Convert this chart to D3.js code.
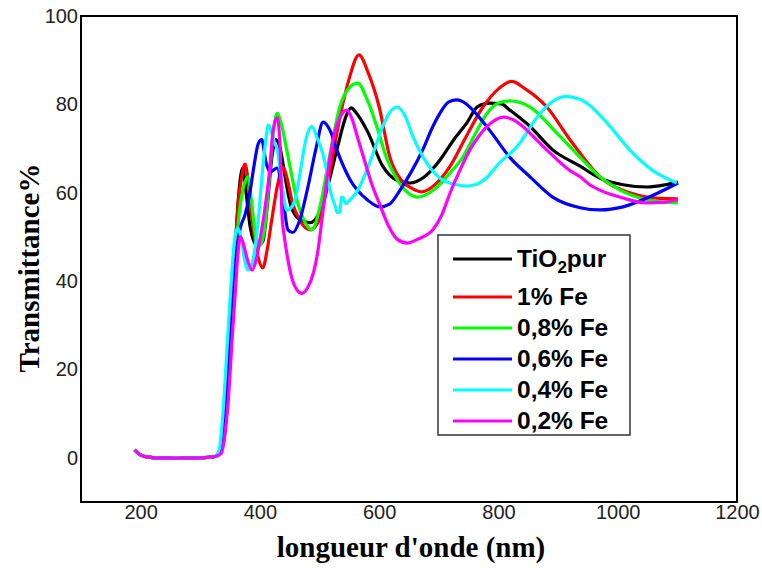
<!DOCTYPE html>
<html><head><meta charset="utf-8">
<script src="https://d3js.org/d3.v7.min.js"></script>
<style>body{margin:0;background:#fff} svg{display:block}</style>
</head><body>
<svg id="chart" width="762" height="568"></svg>
<script>
const xTicks = [200, 400, 600, 800, 1000, 1200];
const yTicks = [0, 20, 40, 60, 80, 100];
const seriesLabels = ["TiO2pur", "1% Fe", "0,8% Fe", "0,6% Fe", "0,4% Fe", "0,2% Fe"];
const seriesColors = ["#000000", "#ff0000", "#00ff00", "#0000ff", "#00ffff", "#ff00ff"];

// shared UV part (wavelength nm, transmittance %)
const baseline = [[190,1.8],[199,0.7],[210,0.2],[225,0],[260,-0.1],[300,0],[325,0.3]];

const tio2Pur = [[337,3],[345,12],[352,28],[358,45],[363,57],[368,64],[371,65.6],[376,61],[384,52],[395,48],[405,49],[413,58],[420,68],[427,72],[434,70],[443,63],[452,57],[466,54],[484,53.2],[498,55],[512,60.6],[529,69.7],[545,77.5],[553,79.2],[562,78],[580,74],[606,66],[630,62.8],[652,62.2],[675,63.5],[702,67.4],[725,72],[747,75.8],[765,79.5],[785,80.3],[805,80.1],[819,78.7],[853,75],[891,69.7],[937,66],[970,63.3],[1009,61.8],[1049,61.3],[1080,61.8],[1101,62.4]];

const fe10 = [[338,3],[346,14],[353,32],[359,48],[364,58],[370,64],[375,66.5],[380,63],[387,53.8],[396,46],[405,43],[412,47],[420,54],[430,62],[439,65.8],[446,63],[454,58],[468,53.5],[484,51.6],[500,54],[515,63],[534,77],[550,86],[566,91.2],[582,87],[600,79.4],[618,68],[636,63],[655,61],[672,60.2],[695,62],[719,66],[745,72.5],[774,79.4],[800,83.5],[822,85.2],[845,83.5],[881,79.4],[920,72],[975,63],[1020,60],[1049,59],[1075,58.7],[1101,58.6]];

const fe08 = [[338,3],[346,13],[353,30],[359,45],[365,55],[372,61],[380,63.6],[386,58],[393,50],[400,48],[408,52],[415,62],[422,73],[429,78],[436,75.5],[445,69.7],[462,58.4],[475,53.5],[487,51.6],[501,57],[515,67],[534,79.4],[548,83.5],[564,84.8],[580,81],[596,75],[612,68],[630,63],[648,60],[665,59],[690,60.5],[719,64.5],[740,68],[760,73],[781,78],[800,80.3],[819,80.8],[853,79.4],[898,73.5],[937,68],[970,63.6],[1004,60.6],[1037,58.8],[1070,58],[1101,57.7]];

const fe06 = [[333,2],[340,9],[347,22],[353,36],[360,46],[367,52],[375,55],[382,59],[390,66],[397,71],[403,72],[410,67],[417,64.7],[429,65.6],[439,58.4],[447,51.6],[455,51],[466,53.5],[480,61],[494,70],[506,76],[518,74],[529,69.7],[551,63],[580,58.4],[601,56.8],[618,57.5],[635,60.6],[655,65],[673,69.7],[690,75],[702,78],[716,80.5],[730,81],[745,80.2],[757,78.7],[786,74],[819,68],[853,63.6],[891,59],[937,56.6],[970,56.1],[1009,56.8],[1049,58.8],[1101,62.2]];

const fe04 = [[332,2],[338,10],[345,25],[352,40],[358,50],[363,52],[368,50],[374,45],[380,42.5],[387,44],[395,51],[400,58],[405,66],[410,72],[414,75.3],[419,74],[424,71.5],[429,69.7],[437,62],[445,56],[452,56.5],[459,58.4],[468,65],[477,72],[487,75],[497,72],[509,67],[517,61],[526,57],[530,55.5],[534,55.7],[537,59],[540,58.8],[544,57.5],[548,58],[559,59.5],[576,64],[590,69],[605,74.7],[618,78.2],[630,79.4],[643,77.5],[657,72.6],[680,66.7],[702,63.3],[730,61.8],[747,61.5],[765,62],[781,63.5],[800,66.5],[831,70.4],[870,78],[895,81],[913,81.8],[935,81.2],[948,80.3],[982,75.8],[1020,69.7],[1059,65],[1099,62.2]];

const fe02 = [[335,1],[342,6],[348,15],[353,26],[358,36],[363,46],[367,50],[371,49],[375,47],[381,44],[387,42.5],[394,45],[400,49.3],[408,56],[417,66],[422,74],[429,77],[434,70],[437,55],[441,50],[447,44.8],[455,40],[462,38],[470,37.2],[480,38.5],[490,42],[497,46.6],[505,55],[514,64.7],[526,73.8],[536,77.5],[546,78.7],[555,76.5],[564,72.4],[576,67],[588,61.8],[602,57],[615,52.7],[630,49.5],[647,48.6],[665,49.5],[690,51.6],[705,55],[719,60],[735,65],[752,69.7],[767,72.8],[781,75],[795,76.5],[808,77.1],[825,76.5],[841,75],[860,72.5],[881,69.7],[920,65],[937,63.6],[953,61.8],[970,60.6],[1009,58.8],[1049,57.7],[1075,57.8],[1101,58.4]];

const seriesData = [tio2Pur, fe10, fe08, fe06, fe04, fe02];

const svg = d3.select("#chart");
const L = 81, R = 737, T = 16, B = 502;
const x = d3.scaleLinear().domain([100, 1200]).range([L, R]);
const y = d3.scaleLinear().domain([-10, 100]).range([B, T]);

// axes (labels only)
const xAxis = svg.append("g").attr("transform", `translate(0,${B})`)
  .call(d3.axisBottom(x).tickValues(xTicks).tickSize(0).tickPadding(3).tickFormat(d3.format("d")));
xAxis.select(".domain").remove();
xAxis.selectAll("text").attr("font-family", "Liberation Sans, Arial, sans-serif").attr("font-size", 20).attr("fill", "#222");

const yAxis = svg.append("g").attr("transform", `translate(${L},0)`)
  .call(d3.axisLeft(y).tickValues(yTicks).tickSize(0).tickPadding(3).tickFormat(d3.format("d")));
yAxis.select(".domain").remove();
yAxis.selectAll("text").attr("font-family", "Liberation Sans, Arial, sans-serif").attr("font-size", 20).attr("fill", "#222");

// lines
const line = d3.line().x(d => x(d[0])).y(d => y(d[1])).curve(d3.curveMonotoneX);
const plot = svg.append("g");
seriesData.forEach((s, i) => {
  plot.append("path")
    .attr("d", line(baseline.concat(s)))
    .attr("fill", "none")
    .attr("stroke", seriesColors[i])
    .attr("stroke-width", 3.2)
    .attr("stroke-linejoin", "round");
});

// frame
svg.append("rect").attr("x", L).attr("y", T).attr("width", R - L).attr("height", B - T)
  .attr("fill", "none").attr("stroke", "#000").attr("stroke-width", 2);

// axis titles
svg.append("text").attr("x", 411).attr("y", 557).attr("text-anchor", "middle")
  .attr("font-family", "Liberation Serif, Times New Roman, serif").attr("font-weight", "bold")
  .attr("font-size", 29).text("longueur d'onde (nm)");
svg.append("text").attr("transform", "translate(39,268) rotate(-90)").attr("text-anchor", "middle")
  .attr("font-family", "Liberation Serif, Times New Roman, serif").attr("font-weight", "bold")
  .attr("font-size", 29).text("Transmittance%");

// legend
const lg = svg.append("g");
lg.append("rect").attr("x", 438).attr("y", 235).attr("width", 192).attr("height", 200)
  .attr("fill", "#fff").attr("stroke", "#333").attr("stroke-width", 1.5);
const rowY = [259, 297, 328, 359, 390, 421];
seriesLabels.forEach((lab, i) => {
  lg.append("line").attr("x1", 453).attr("x2", 512).attr("y1", rowY[i]).attr("y2", rowY[i])
    .attr("stroke", seriesColors[i]).attr("stroke-width", 3.2);
  const t = lg.append("text").attr("x", 517).attr("y", rowY[i] + 8)
    .attr("font-family", "Liberation Sans, Arial, sans-serif").attr("font-weight", "bold")
    .attr("font-size", 24.5).attr("fill", "#000");
  if (lab === "TiO2pur") {
    t.append("tspan").text("TiO");
    t.append("tspan").attr("dy", 6).attr("font-size", 17).text("2");
    t.append("tspan").attr("dy", -6).text("pur");
  } else {
    t.text(lab);
  }
});
</script>
</body></html>
